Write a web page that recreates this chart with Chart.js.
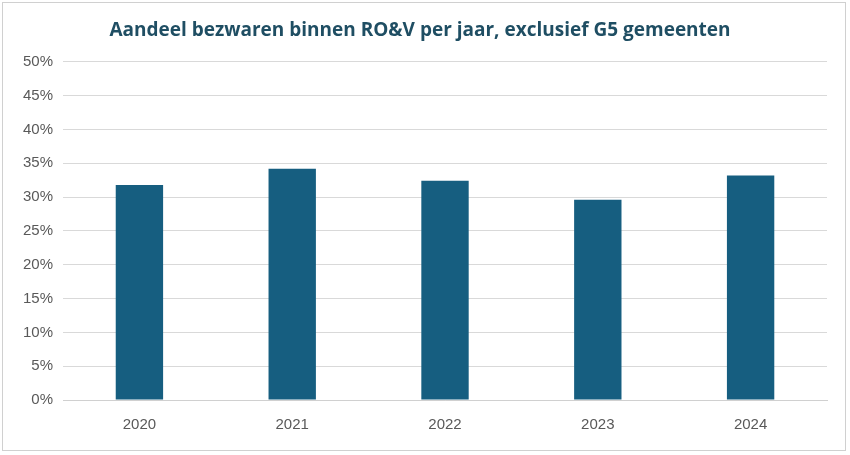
<!DOCTYPE html>
<html>
<head>
<meta charset="utf-8">
<script src="https://cdn.jsdelivr.net/npm/chart.js@4"></script>
<style>
  html, body { margin: 0; padding: 0; background: #fff; }
  #wrap { position: absolute; left: 2px; top: 2px; width: 844px; height: 449px; border: 1px solid #d0d0d0; box-sizing: border-box; }
</style>
</head>
<body>
<div id="wrap"><canvas id="c"></canvas></div>
<script>
const years = ["2020", "2021", "2022", "2023", "2024"];
const shares = [31.8, 34.2, 32.4, 29.6, 33.2];

new Chart(document.getElementById("c"), {
  type: "bar",
  data: {
    labels: years,
    datasets: [{
      data: shares,
      backgroundColor: "#165e80",
      categoryPercentage: 1,
      barPercentage: 0.31
    }]
  },
  options: {
    responsive: true,
    maintainAspectRatio: false,
    animation: false,
    layout: { padding: { left: 10, right: 18, top: 0, bottom: 8 } },
    plugins: {
      legend: { display: false },
      tooltip: { enabled: false },
      title: {
        display: true,
        text: "Aandeel bezwaren binnen RO&V per jaar, exclusief G5 gemeenten",
        color: "#1f4e63",
        font: { family: "Open Sans", size: 19, weight: "bold" },
        padding: { top: 16, bottom: 20 }
      }
    },
    scales: {
      x: {
        grid: { display: false },
        border: { color: "#d0d0d0" },
        ticks: { color: "#595959", font: { family: "Liberation Sans", size: 15 }, padding: 8 }
      },
      y: {
        min: 0,
        max: 50,
        ticks: {
          stepSize: 5,
          color: "#595959",
          font: { family: "Liberation Sans", size: 15 },
          padding: 10,
          callback: v => v + "%"
        },
        grid: { color: "#d9d9d9", drawTicks: false },
        border: { display: false }
      }
    }
  }
});
</script>
</body>
</html>
